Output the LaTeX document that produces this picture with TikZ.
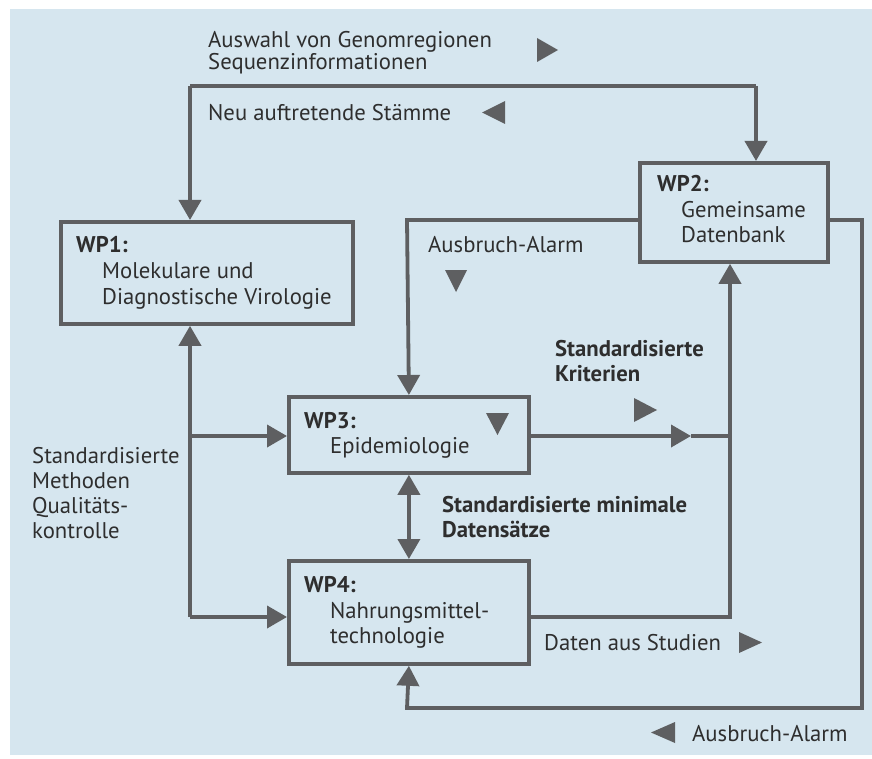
\documentclass[tikz,border=0pt]{standalone}
\usepackage{fontspec}
\setmainfont{PT Sans}
\usetikzlibrary{arrows.meta,calc}
\definecolor{bg}{HTML}{D6E6EF}
\definecolor{ln}{HTML}{5E5F61}
\definecolor{tx}{HTML}{2E2E2E}
\begin{document}
\begin{tikzpicture}[x=1pt,y=-1pt,
  box/.style={draw=ln,line width=3.8pt,anchor=north west,inner sep=0pt},
  txt/.style={text=tx,font=\fontsize{22.7}{25}\selectfont,inner sep=0pt,anchor=base west,align=left},
  btxt/.style={txt,font=\fontsize{22.7}{25}\selectfont\bfseries},
  conn/.style={draw=ln,line width=3.8pt,line join=miter},
  arr/.style={conn,-{Triangle[length=20pt,width=22pt]}},
  darr/.style={conn,{Triangle[length=20pt,width=22pt]}-{Triangle[length=20pt,width=22pt]}},
  trimark/.style={fill=ln}]
\useasboundingbox (0,0) rectangle (872,759);
\fill[white] (0,0) rectangle (872,759);
\fill[bg] (10,9) rectangle (872,755);
% boxes
\node[box,minimum width=292pt,minimum height=102pt] (wp1) at (59,220) {};
\node[box,minimum width=188pt,minimum height=99pt] (wp2) at (638,161) {};
\node[box,minimum width=240pt,minimum height=76pt] (wp3) at (287,395) {};
\node[box,minimum width=240pt,minimum height=103pt] (wp4) at (287,559) {};
% box texts
\node[btxt] (wp1h) at (76,252) {WP1:};
\node[txt,font=\fontsize{22.7}{26}\selectfont] (wp1b) at (102,304) {Molekulare und\\Diagnostische Virologie};
\node[btxt] (wp2h) at (657,192) {WP2:};
\node[txt] (wp2b) at (681,243) {Gemeinsame\\Datenbank};
\node[btxt] (wp3h) at (304,428) {WP3:};
\node[txt] (wp3b) at (330,453) {Epidemiologie};
\node[btxt] (wp4h) at (304,592) {WP4:};
\node[txt] (wp4b) at (330,643) {Nahrungsmittel-\\technologie};
% labels
\node[txt,font=\fontsize{22.7}{22.5}\selectfont] (l1) at (208,70) {Auswahl von Genomregionen\\Sequenzinformationen};
\node[txt] (l2) at (208,121) {Neu auftretende Stämme};
\node[txt] (l3) at (428,253) {Ausbruch-Alarm};
\node[btxt] (l4) at (555,381) {Standardisierte\\Kriterien};
\node[txt,font=\fontsize{22.7}{24.7}\selectfont] (l5) at (32,538) {Standardisierte\\Methoden\\Qualitäts-\\kontrolle};
\node[btxt] (l6) at (442,537) {Standardisierte minimale\\Datensätze};
\node[txt] (l7) at (544,650) {Daten aus Studien};
\node[txt] (l8) at (692,741) {Ausbruch-Alarm};
% marker triangles
\fill[trimark] (537,38) -- (558,50) -- (537,62) -- cycle;
\fill[trimark] (505,101) -- (482,112.5) -- (505,124) -- cycle;
\fill[trimark] (445,270) -- (467,270) -- (456,292) -- cycle;
\fill[trimark] (486,413) -- (509,413) -- (497.5,435) -- cycle;
\fill[trimark] (634,398) -- (657,410) -- (634,422) -- cycle;
\fill[trimark] (739,632) -- (762,642.5) -- (739,653) -- cycle;
\fill[trimark] (675,722) -- (651,732.5) -- (675,743) -- cycle;
% coordinates
\coordinate (tl) at (190,86);
\coordinate (tr) at (756,86);
\coordinate (w2l) at (638,220);
\coordinate (w2r) at (826,220);
\coordinate (r1) at (862,220);
\coordinate (r2) at (862,708);
\coordinate (r3) at (407,708);
\coordinate (u1) at (407,220);
\coordinate (b0) at (190,436);
\coordinate (b1) at (190,617);
\coordinate (ka) at (691,436);
\coordinate (j1) at (730,436);
\coordinate (j2) at (730,617);
% connectors
\draw[conn] (tl) -- (tr);
\draw[arr] (tr) -- (tr |- wp2.north);
\draw[arr] (tl) -- (tl |- wp1.north);
\draw[arr] (w2r) -- (r1) -- (r2) -- (r3) -- (wp4.south);
\draw[arr] (w2l) -- (u1) -- (wp3.north);
\draw[arr] (b1) -- (b1 |- wp1.south);
\draw[arr] (b0) -- (b0 -| wp3.west);
\draw[arr] (b1) -- (b1 -| wp4.west);
\draw[arr] (b0 -| wp3.east) -- (ka);
\draw[conn] (ka) -- (j1);
\draw[arr] (j2 -| wp4.east) -- (j2) -- (j2 |- wp2.south);
\draw[darr] (wp3.south) -- (wp4.north);
\end{tikzpicture}
\end{document}
